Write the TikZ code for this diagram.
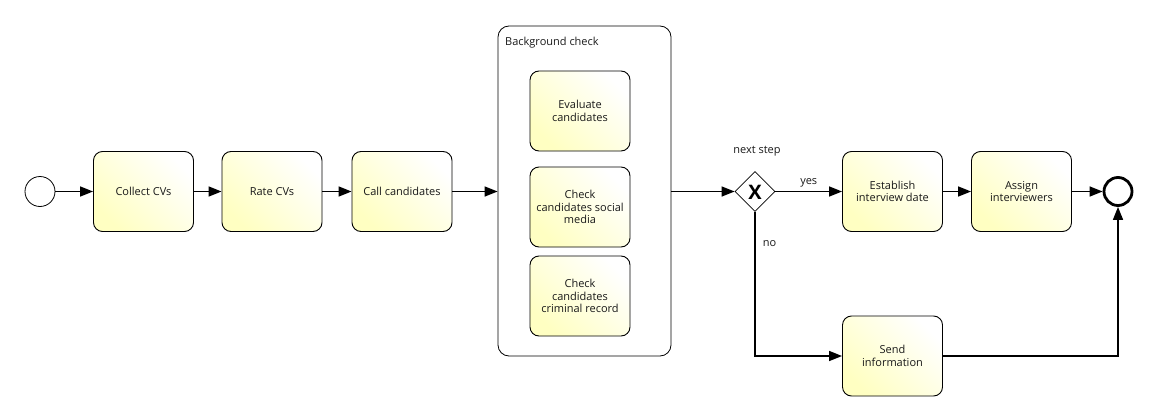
\documentclass[tikz,border=0pt]{standalone}
\usepackage{fontspec}
\setmainfont{Open Sans}
\usetikzlibrary{arrows.meta,shapes.geometric,positioning}
\begin{document}
\begin{tikzpicture}[x=1pt,y=-1pt,
  font=\fontsize{11}{12.5}\selectfont,
  task/.style={draw=black,line width=0.9pt,rounded corners=9pt,minimum width=100pt,minimum height=80pt,
    align=center,inner sep=2pt,text=black!90,
    shading=axis,left color=white,right color=yellow!24,shading angle=-45},
  flow/.style={line width=1.5pt,-{Triangle[length=13pt,width=10pt]}},
  lbl/.style={text=black!90,inner sep=1pt}]
\useasboundingbox (0,0) rectangle (1156,420);
% events
\node[draw,circle,line width=0.8pt,minimum size=30pt,inner sep=0] (start) at (40,191.5) {};
\node[draw,circle,line width=2.8pt,minimum size=28pt,inner sep=0] (end) at (1118,191.5) {};
% tasks
\node[task] (collect) at (143.5,191.5) {Collect CVs};
\node[task] (rate) at (272,191.5) {Rate CVs};
\node[task] (call) at (402,191.5) {Call candidates};
% subprocess
\node[draw,rounded corners=11pt,line width=0.8pt,minimum width=173pt,minimum height=330pt,inner sep=0] (sub) at (584.5,191) {};
\node[lbl,anchor=north west] (subl) at (504,36) {Background check};
\node[task] (eval) at (580,111) {Evaluate\\candidates};
\node[task] (social) at (580,207) {Check\\candidates social\\media};
\node[task] (crim) at (580,296) {Check\\candidates\\criminal record};
% gateway
\node[draw,diamond,line width=0.8pt,minimum size=40pt,inner sep=0,fill=white] (gw) at (755,191.5) {};
\node[inner sep=0] (gwx) at (755,192) {\fontsize{20}{20}\selectfont\bfseries X};
\node[lbl] (gwl) at (757,151) {next step};
\node[task] (establish) at (892.5,191.5) {Establish\\interview date};
\node[task] (assign) at (1021.5,191.5) {Assign\\interviewers};
\node[task] (send) at (892.5,356) {Send\\information};
% flows
\draw[flow] (start) -- (collect);
\draw[flow] (collect) -- (rate);
\draw[flow] (rate) -- (call);
\draw[flow] (call) -- (call.east -| sub.west);
\draw[flow] (sub.east |- gw) -- (gw);
\draw[flow] (gw) -- node[lbl,above=3pt,pos=0.5] {yes} (establish.west |- gw);
\draw[flow] (establish) -- (assign);
\draw[flow] (assign.east |- end) -- (end);
\draw[flow] (gw.south) |- node[lbl,pos=0.11,right=6pt] {no} (send.west);
\draw[flow] (send.east) -| (end.south);
\end{tikzpicture}
\end{document}
